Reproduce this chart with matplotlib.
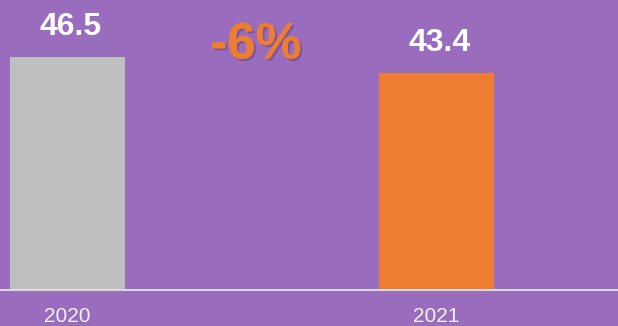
import matplotlib.pyplot as plt
import matplotlib.patheffects as pe

years = ['2020', '2021']
values = [46.5, 43.4]
bar_colors = ['#BFBFBF', '#ED7D31']
change_label = '-6%'

plt.rcParams['font.family'] = ['Liberation Sans', 'DejaVu Sans']

bg = '#9A6CBD'
fig = plt.figure(figsize=(6.18, 3.26), dpi=100, facecolor=bg)
ax = fig.add_axes([0, 36 / 326, 1, 290 / 326])
ax.set_facecolor(bg)

x = [0, 1]
ax.bar(x, values, width=0.312, color=bar_colors, zorder=2)
ax.set_xlim(-0.183, 1.492)
ax.set_ylim(0, 57.9)

for xi, v in zip(x, values):
    ax.annotate(f'{v}', (xi, v), xytext=(2.5, 21.5), textcoords='offset points',
                ha='center', va='center', fontsize=23, fontweight='bold',
                color='white')

ax.text(0.51, 48.9, change_label, ha='center', va='center', fontsize=37,
        fontweight='bold', color='#ED7D31',
        path_effects=[pe.withSimplePatchShadow(offset=(1.5, -1.5),
                                               shadow_rgbFace='#7A4E8F', alpha=0.8),
                      pe.Normal()])

ax.set_xticks(x)
ax.set_xticklabels(years, fontsize=15, color='#F2F2F2')
ax.tick_params(axis='x', length=0, pad=12)
ax.set_yticks([])
for s in ['top', 'left', 'right']:
    ax.spines[s].set_visible(False)
ax.spines['bottom'].set_color('#D9D9D9')
ax.spines['bottom'].set_linewidth(1.5)
ax.spines['bottom'].set_zorder(3)

fig.savefig('out.png', dpi=100, facecolor=bg)
